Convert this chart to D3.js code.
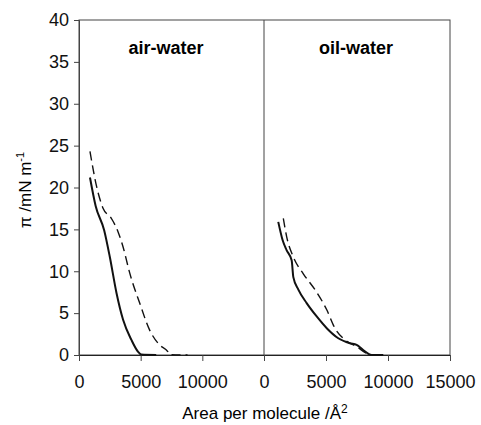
<!DOCTYPE html>
<html>
<head>
<meta charset="utf-8">
<script src="https://cdn.jsdelivr.net/npm/d3@7"></script>
<style>
  body { margin: 0; background: #fff; }
  svg text { font-family: "Liberation Sans", Arial, sans-serif; }
</style>
</head>
<body>
<div id="chart"></div>
<script>
// isotherms: area per molecule (Å²) vs surface pressure (mN/m)
const airSolid = [
  [890, 21.2], [1350, 17.8], [2040, 14.9], [2500, 11.7], [3040, 7.4],
  [3575, 4.2], [4250, 1.8], [4780, 0.4], [5050, 0.05], [6260, 0]
];
const airDashed = [
  [890, 24.3], [1430, 20.1], [1960, 17.5], [2630, 16.3], [3170, 14.7],
  [3575, 12.9], [4110, 9.8], [4920, 6.2], [5720, 3.0], [6530, 1.2],
  [7200, 0.4], [7340, 0.05], [8800, 0]
];
const oilSolid = [
  [1150, 15.9], [1505, 13.7], [1830, 12.5], [2230, 11.3], [2365, 9.3],
  [2770, 7.8], [3440, 6.2], [4250, 4.6], [5060, 3.2], [5990, 2.0],
  [6930, 1.4], [7470, 1.2], [8000, 0.6], [8680, 0], [9620, 0]
];
const oilDashed = [
  [1560, 16.3], [1830, 14.1], [2365, 11.7], [3170, 9.7], [4110, 7.8],
  [5060, 5.4], [5720, 3.2], [6530, 1.8], [7470, 1.0], [8280, 0.2],
  [8820, 0], [9620, 0]
];
const yTicks = [0, 5, 10, 15, 20, 25, 30, 35, 40];
const leftTicks = [0, 5000, 10000];
const rightTicks = [0, 5000, 10000, 15000];

const W = 481, H = 425;
const x0 = 79, xMid = 264, x1 = 450, yTop = 20, yBot = 355;

const svg = d3.select('#chart').append('svg')
  .attr('width', W).attr('height', H);

const y = d3.scaleLinear().domain([0, 40]).range([yBot, yTop]);
const xL = d3.scaleLinear().domain([0, 15000]).range([x0, xMid]);
const xR = d3.scaleLinear().domain([0, 15000]).range([xMid, x1]);

// frame
svg.append('rect')
  .attr('x', x0).attr('y', yTop)
  .attr('width', x1 - x0).attr('height', yBot - yTop)
  .attr('fill', 'none').attr('stroke', '#444').attr('stroke-width', 1);
svg.append('line')
  .attr('x1', xMid).attr('x2', xMid).attr('y1', yTop).attr('y2', yBot)
  .attr('stroke', '#444');

// y axis
const yAxis = svg.append('g')
  .attr('transform', `translate(${x0},0)`)
  .call(d3.axisLeft(y).tickValues(yTicks).tickSize(5).tickPadding(5));
yAxis.select('.domain').attr('stroke', '#444');
yAxis.selectAll('line').attr('stroke', '#444');
yAxis.selectAll('text').attr('font-size', 18).attr('fill', '#111')
  .attr('font-family', '"Liberation Sans", Arial, sans-serif');

// x axes
function xAxis(scale, ticks) {
  const g = svg.append('g')
    .attr('transform', `translate(0,${yBot})`)
    .call(d3.axisBottom(scale).tickValues(ticks).tickSize(6).tickPadding(14).tickFormat(d3.format('d')));
  g.select('.domain').attr('stroke', '#222');
  g.selectAll('line').attr('stroke', '#444');
  g.selectAll('text').attr('font-size', 18).attr('fill', '#111')
    .attr('font-family', '"Liberation Sans", Arial, sans-serif');
}
xAxis(xL, leftTicks);
xAxis(xR, rightTicks);

// curves
function curve(data, scale, dashed) {
  svg.append('path')
    .datum(data)
    .attr('fill', 'none')
    .attr('stroke', '#111')
    .attr('stroke-width', dashed ? 1.4 : 2)
    .attr('stroke-dasharray', dashed ? '9,5' : null)
    .attr('stroke-linejoin', 'round')
    .attr('d', d3.line().x(d => scale(d[0])).y(d => y(d[1])).curve(d3.curveMonotoneX));
}
curve(airSolid, xL, false);
curve(airDashed, xL, true);
curve(oilSolid, xR, false);
curve(oilDashed, xR, true);

// panel titles
svg.append('text').attr('x', 166).attr('y', 54)
  .attr('text-anchor', 'middle').attr('font-size', 18).attr('font-weight', 'bold')
  .text('air-water');
svg.append('text').attr('x', 356).attr('y', 54)
  .attr('text-anchor', 'middle').attr('font-size', 18).attr('font-weight', 'bold')
  .text('oil-water');

// axis titles
const yl = svg.append('text')
  .attr('transform', 'translate(31,190) rotate(-90)')
  .attr('text-anchor', 'middle').attr('font-size', 17);
yl.append('tspan').text('\u03c0 /mN m');
yl.append('tspan').attr('font-size', 11).attr('dy', -7).text('-1');

const xl = svg.append('text')
  .attr('x', 265).attr('y', 419)
  .attr('text-anchor', 'middle').attr('font-size', 17);
xl.append('tspan').text('Area per molecule /\u00c5');
xl.append('tspan').attr('font-size', 12).attr('dy', -6).text('2');
</script>
</body>
</html>
